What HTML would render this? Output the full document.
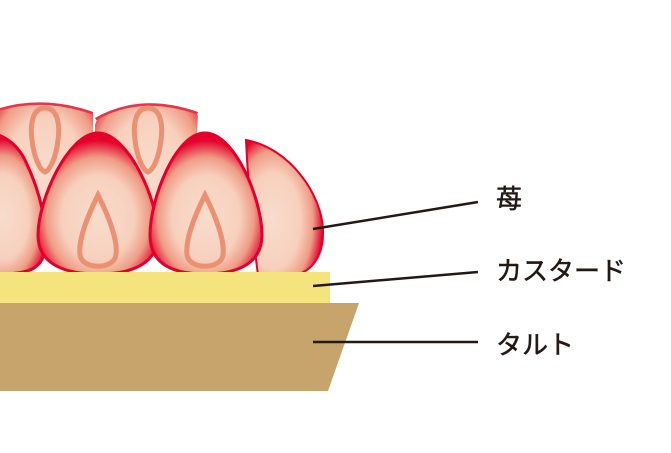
<!DOCTYPE html>
<html><head><meta charset="utf-8"><style>
html,body{margin:0;padding:0;background:#fff;}
svg{display:block}
text{font-family:"Liberation Sans","Noto Sans CJK JP",sans-serif;font-size:26px;fill:#231815;stroke:#231815;stroke-width:0.5;}
</style></head><body>
<svg width="671" height="453" viewBox="0 0 671 453" xmlns="http://www.w3.org/2000/svg">
<defs>
<radialGradient id="g" cx="50%" cy="60%" r="55%">
<stop offset="0" stop-color="#f9dccc"/><stop offset="0.55" stop-color="#f7d0bd"/>
<stop offset="0.78" stop-color="#ef9c86"/><stop offset="1" stop-color="#e4002b"/>
</radialGradient>
<radialGradient id="s" cx="35%" cy="60%" r="65%">
<stop offset="0" stop-color="#f9dccc"/><stop offset="0.55" stop-color="#f7d0bd"/>
<stop offset="0.8" stop-color="#ef9c86"/><stop offset="1" stop-color="#e4002b"/>
</radialGradient>
<clipPath id="top"><rect x="0" y="0" width="671" height="272"/></clipPath>
<clipPath id="cut1"><path d="M0,108 Q45,95 93,112 L93,300 L0,300Z"/></clipPath>
<clipPath id="cut2"><path d="M95,118 Q140,92 198,112 L190,300 L95,300Z"/></clipPath>
</defs>
<g clip-path="url(#top)">
<!-- back row -->
<g clip-path="url(#cut1)">
<path d="M45,60 C85,60 110,150 110,190 C110,230 85,250 45,250 C5,250 -20,230 -20,190 C-20,150 5,60 45,60Z" fill="url(#g)"/>
<path d="M0,108 Q45,95 93,112" fill="none" stroke="#e8334a" stroke-width="5"/>
<path d="M45,108 C58,108 60,125 58,140 C56,158 50,170 45,172 C40,170 34,158 32,140 C30,125 32,108 45,108Z" fill="none" stroke="#ec9073" stroke-width="5"/>
</g>
<g clip-path="url(#cut2)">
<path d="M148,60 C188,60 213,150 213,190 C213,230 188,250 148,250 C108,250 83,230 83,190 C83,150 108,60 148,60Z" fill="url(#g)"/>
<path d="M95,118 Q140,92 198,112" fill="none" stroke="#e8334a" stroke-width="5"/>
<path d="M148,108 C161,108 163,125 161,140 C159,158 153,170 148,172 C143,170 137,158 135,140 C133,125 135,108 148,108Z" fill="none" stroke="#ec9073" stroke-width="5"/>
</g>
<!-- right slice -->
<path d="M246,140 C290,148 322,195 323,230 C324,258 310,272 295,275 L258,275 C252,230 248,180 246,140Z" fill="url(#s)" stroke="#e4002b" stroke-width="2"/>
<!-- left partial -->
<path d="M-40,135 C-20,128 10,130 25,160 C42,195 48,230 45,250 C42,268 30,274 0,274 L-40,274Z" fill="url(#g)" stroke="#e4002b" stroke-width="3"/>
<!-- front strawberries -->
<g>
<path d="M98,133 C128,133 158,200 158,235 C158,262 135,274 98,274 C61,274 38,262 38,235 C38,200 68,133 98,133Z" fill="url(#g)" stroke="#e4002b" stroke-width="3"/>
<path d="M98,195 C108,215 118,240 116,255 C114,270 82,270 80,255 C78,240 88,215 98,195Z" fill="none" stroke="#ec9073" stroke-width="5"/>
</g>
<g>
<path d="M205,133 C235,133 262,200 262,235 C262,262 240,274 205,274 C170,274 150,262 150,235 C150,200 175,133 205,133Z" fill="url(#g)" stroke="#e4002b" stroke-width="3"/>
<path d="M205,195 C215,215 225,240 223,255 C221,270 189,270 187,255 C185,240 195,215 205,195Z" fill="none" stroke="#ec9073" stroke-width="5"/>
</g>
</g>
<rect x="0" y="272" width="330" height="32" fill="#f5e47e"/>
<polygon points="0,303 359,303 328,391 0,391" fill="#c6a46c"/>
<g stroke="#231815" stroke-width="2.5">
<line x1="313" y1="229" x2="478" y2="202"/>
<line x1="313" y1="286" x2="478" y2="272"/>
<line x1="313" y1="342" x2="478" y2="342"/>
</g>
<text x="496" y="208">苺</text>
<text x="496" y="280">カスタード</text>
<text x="496" y="354">タルト</text>
</svg>
</body></html>
